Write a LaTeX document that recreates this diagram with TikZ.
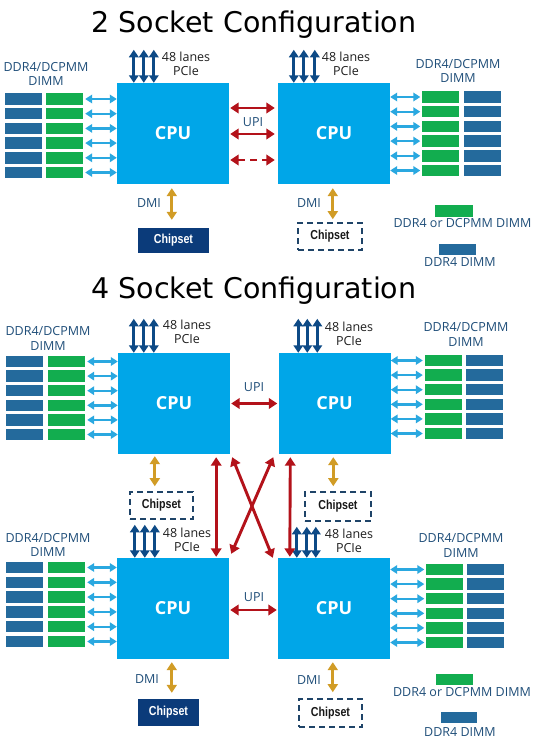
\documentclass[tikz,border=0pt]{standalone}
\usepackage{fontspec}
\setmainfont{Open Sans}
\newfontfamily\titlefont{DejaVu Sans}
\newfontfamily\chipfont[FakeStretch=0.82]{Liberation Sans}
\usetikzlibrary{arrows.meta}
\definecolor{cpublue}{HTML}{00A6E8}
\definecolor{ddrblue}{HTML}{246A9C}
\definecolor{dimmgreen}{HTML}{12AD4F}
\definecolor{memblue}{HTML}{2AA8E0}
\definecolor{pcieblue}{HTML}{0D4A86}
\definecolor{upired}{HTML}{B3121A}
\definecolor{dmiorange}{HTML}{D19C26}
\definecolor{chipnavy}{HTML}{0B3B7A}
\definecolor{chipborder}{HTML}{1F4468}
\definecolor{labelblue}{HTML}{1F4E79}
\tikzset{
  cpu/.style={fill=cpublue, minimum width=112pt, minimum height=101pt, inner sep=0pt,
    text=white, font=\bfseries\fontsize{18}{20}\selectfont},
  ddr/.style={fill=ddrblue, minimum width=37pt, minimum height=11.5pt, inner sep=0pt},
  dcp/.style={fill=dimmgreen, minimum width=37pt, minimum height=11.5pt, inner sep=0pt},
  memarr/.style={draw=memblue, line width=2.4pt,
    {Triangle[width=8.5pt,length=7pt]}-{Triangle[width=8.5pt,length=7pt]}},
  pciearr/.style={draw=pcieblue, line width=2.8pt,
    {Triangle[width=9.5pt,length=7.5pt]}-{Triangle[width=9.5pt,length=7.5pt]}},
  upiarr/.style={draw=upired, line width=2.9pt,
    {Triangle[width=10.5pt,length=8.5pt]}-{Triangle[width=10.5pt,length=8.5pt]}},
  dmiarr/.style={draw=dmiorange, line width=2.9pt,
    {Triangle[width=10pt,length=8pt]}-{Triangle[width=10pt,length=8pt]}},
  chipsolid/.style={fill=chipnavy, text=white, inner sep=0pt,
    font=\chipfont\bfseries\fontsize{13}{15}\selectfont},
  chipdash/.style={draw=chipborder, dash pattern=on 6pt off 4pt, line width=1.6pt,
    text=black!90, inner sep=0pt, font=\chipfont\bfseries\fontsize{13}{15}\selectfont},
  dimmlbl/.style={text=labelblue, align=center, inner sep=0pt,
    font=\fontsize{12.5}{14.5}\selectfont},
  pcielbl/.style={text=black!88, align=center, inner sep=0pt,
    font=\fontsize{12.5}{14}\selectfont},
  smalllbl/.style={text=labelblue, inner sep=0pt, font=\fontsize{12.5}{14}\selectfont},
  titlelbl/.style={anchor=base, inner sep=0pt, font=\titlefont\fontsize{28.5}{33}\selectfont},
}
\begin{document}
\begin{tikzpicture}[x=1pt,y=-1pt]
\useasboundingbox[fill=white] (0,0) rectangle (533,739);

% ================= 2 SOCKET =================
\node[titlelbl] (t2) at (254,32) {2 Socket Configuration};

\node[cpu] (cpuA) at (173,133.5) {CPU};
\node[cpu] (cpuB) at (334,133.5) {CPU};

% DIMMs left
\foreach \i in {1,...,6} {
  \node[ddr] (dA\i) at (23.5,{99+(\i-1)*14.7}) {};
  \node[dcp] (gA\i) at (64.5,{99+(\i-1)*14.7}) {};
  \draw[memarr] ([xshift=2pt]gA\i.east) -- (gA\i.east -| cpuA.west);
}
% DIMMs right
\foreach \i in {1,...,6} {
  \node[dcp] (gB\i) at (440.5,{97+(\i-1)*14.7}) {};
  \node[ddr] (dB\i) at (482.5,{97+(\i-1)*14.7}) {};
  \draw[memarr] (cpuB.east |- gB\i.west) -- ([xshift=-1.5pt]gB\i.west);
}
\node[dimmlbl] (lA) at (46,74) {DDR4/DCPMM\\DIMM};
\node[dimmlbl] (lB) at (458,71) {DDR4/DCPMM\\DIMM};

% PCIe
\foreach \dx [count=\k] in {17,27,37} {
  \coordinate (pA\k) at ([xshift=\dx pt,yshift=33pt]cpuA.north west);
  \draw[pciearr] (pA\k) -- (pA\k |- cpuA.north);
}
\foreach \dx [count=\k] in {16,26,37} {
  \coordinate (pB\k) at ([xshift=\dx pt,yshift=33pt]cpuB.north west);
  \draw[pciearr] (pB\k) -- (pB\k |- cpuB.north);
}
\node[pcielbl] (plA) at (186,64) {48 lanes\\PCIe};
\node[pcielbl] (plB) at (346,64) {48 lanes\\PCIe};

% UPI
\draw[upiarr] ([xshift=1pt,yshift=25.5pt]cpuA.east) -- ([xshift=-3pt,yshift=25.5pt]cpuB.west);
\draw[upiarr] ([xshift=1pt,yshift=-0.5pt]cpuA.east) -- ([xshift=-3pt,yshift=-0.5pt]cpuB.west);
\draw[upiarr, dash pattern=on 7pt off 5pt] ([xshift=1pt,yshift=-26.5pt]cpuA.east) -- ([xshift=-3pt,yshift=-26.5pt]cpuB.west);
\node[smalllbl] (uA) at (253,122) {UPI};

% DMI + chipsets
\node[chipsolid, minimum width=71pt, minimum height=25pt] (chA) at (173.5,240.5) {Chipset};
\node[chipdash, minimum width=64pt, minimum height=27pt] (chB) at (330,236.5) {Chipset};
\coordinate (mA) at ([xshift=55pt]cpuA.south west);
\coordinate (mB) at ([xshift=55pt]cpuB.south west);
\draw[dmiarr, shorten <=4pt, shorten >=8pt] (mA) -- (mA |- chA.north);
\draw[dmiarr, shorten <=4pt, shorten >=3pt] (mB) -- (mB |- chB.north);
\node[smalllbl] (dmA) at (149,203) {DMI};
\node[smalllbl] (dmB) at (309,203) {DMI};

% legend
\node[dcp, minimum width=38pt, minimum height=12pt] (lgA) at (454,211) {};
\node[smalllbl] (lgAt) at (462.5,223) {DDR4 or DCPMM DIMM};
\node[ddr, minimum width=37pt, minimum height=11pt] (lbA) at (457.5,249.5) {};
\node[smalllbl] (lbAt) at (460,262) {DDR4 DIMM};

% ================= 4 SOCKET =================
\node[titlelbl] (t4) at (254,298) {4 Socket Configuration};

\node[cpu] (cTL) at (174,403.5) {CPU};
\node[cpu] (cTR) at (334.5,403.5) {CPU};
\node[cpu] (cBL) at (173,608.5) {CPU};
\node[cpu] (cBR) at (334,608.5) {CPU};

% DIMMs
\foreach \i in {1,...,6} {
  \node[ddr] (dTL\i) at (24.5,{361.5+(\i-1)*14.6}) {};
  \node[dcp] (gTL\i) at (66.5,{361.5+(\i-1)*14.6}) {};
  \draw[memarr] ([xshift=2pt]gTL\i.east) -- (gTL\i.east -| cTL.west);
  \node[dcp] (gTR\i) at (443,{360.5+(\i-1)*14.6}) {};
  \node[ddr] (dTR\i) at (484.5,{360.5+(\i-1)*14.6}) {};
  \draw[memarr] (cTR.east |- gTR\i.west) -- ([xshift=-1.5pt]gTR\i.west);
  \node[ddr] (dBL\i) at (24.5,{567.5+(\i-1)*14.8}) {};
  \node[dcp] (gBL\i) at (66.5,{567.5+(\i-1)*14.8}) {};
  \draw[memarr] ([xshift=2pt]gBL\i.east) -- (gBL\i.east -| cBL.west);
  \node[dcp] (gBR\i) at (444.5,{569.5+(\i-1)*14.6}) {};
  \node[ddr] (dBR\i) at (485.5,{569.5+(\i-1)*14.6}) {};
  \draw[memarr] (cBR.east |- gBR\i.west) -- ([xshift=-1.5pt]gBR\i.west);
}
\node[dimmlbl] (lTL) at (48,338.5) {DDR4/DCPMM\\DIMM};
\node[dimmlbl] (lTR) at (466,334.5) {DDR4/DCPMM\\DIMM};
\node[dimmlbl] (lBL) at (48,545) {DDR4/DCPMM\\DIMM};
\node[dimmlbl] (lBR) at (461,545.5) {DDR4/DCPMM\\DIMM};

% PCIe
\foreach \dx [count=\k] in {16,26,36} {
  \coordinate (pTL\k) at ([xshift=\dx pt,yshift=34pt]cTL.north west);
  \draw[pciearr] (pTL\k) -- (pTL\k |- cTL.north);
}
\foreach \dx [count=\k] in {20,29,39} {
  \coordinate (pTR\k) at ([xshift=\dx pt,yshift=34pt]cTR.north west);
  \draw[pciearr] (pTR\k) -- (pTR\k |- cTR.north);
}
\foreach \dx [count=\k] in {18,28,38} {
  \coordinate (pBL\k) at ([xshift=\dx pt,yshift=33pt]cBL.north west);
  \draw[pciearr] (pBL\k) -- (pBL\k |- cBL.north);
}
\foreach \dx [count=\k] in {19,29,38} {
  \coordinate (pBR\k) at ([xshift=\dx pt,yshift=31pt]cBR.north west);
  \draw[pciearr] (pBR\k) -- (pBR\k |- cBR.north);
}
\node[pcielbl] (plTL) at (187,332) {48 lanes\\PCIe};
\node[pcielbl] (plTR) at (349,334) {48 lanes\\PCIe};
\node[pcielbl] (plBL) at (187,539.5) {48 lanes\\PCIe};
\node[pcielbl] (plBR) at (349,541) {48 lanes\\PCIe};

% UPI
\draw[upiarr] ([xshift=1pt]cTL.east) -- ([xshift=-1pt]cTR.west);
\node[smalllbl] (uT) at (254,387) {UPI};
\draw[upiarr] ([xshift=1pt,yshift=-1.5pt]cBL.east) -- ([xshift=-1pt,yshift=-1.5pt]cBR.west);
\node[smalllbl] (uB) at (254,597) {UPI};

\draw[upiarr] ([xshift=-14pt,yshift=-3pt]cTL.south east) -- ([xshift=-13pt,yshift=1pt]cBL.north east);
\draw[upiarr] ([xshift=12pt,yshift=-3pt]cTR.south west) -- ([xshift=12pt,yshift=1pt]cBR.north west);
\draw[upiarr] ([xshift=2pt,yshift=-3pt]cTL.south east) -- ([xshift=-5pt]cBR.north west);
\draw[upiarr] ([xshift=-5pt,yshift=-3pt]cTR.south west) -- ([xshift=2pt,yshift=4pt]cBL.north east);

% chipsets + DMI
\node[chipdash, minimum width=63pt, minimum height=27pt] (chTL) at (161.5,505.5) {Chipset};
\node[chipdash, minimum width=66pt, minimum height=29pt] (chTR) at (338,506.5) {Chipset};
\node[chipsolid, minimum width=61pt, minimum height=27pt] (chBL) at (168.5,712.5) {Chipset};
\node[chipdash, minimum width=63pt, minimum height=28pt] (chBR) at (330.5,713) {Chipset};
\coordinate (mTL) at ([xshift=37pt]cTL.south west);
\coordinate (mTR) at ([xshift=55pt]cTR.south west);
\coordinate (mBL) at ([xshift=55pt]cBL.south west);
\coordinate (mBR) at ([xshift=55pt]cBR.south west);
\draw[dmiarr, shorten <=2pt, shorten >=5pt] (mTL) -- (mTL |- chTL.north);
\draw[dmiarr, shorten <=3pt, shorten >=5pt] (mTR) -- (mTR |- chTR.north);
\draw[dmiarr, shorten <=3pt, shorten >=6pt] (mBL) -- (mBL |- chBL.north);
\draw[dmiarr, shorten <=3pt, shorten >=6pt] (mBR) -- (mBR |- chBR.north);
\node[smalllbl] (dmBL) at (147,679) {DMI};
\node[smalllbl] (dmBR) at (309,680) {DMI};

% legend
\node[dcp, minimum width=37pt, minimum height=11pt] (lgB) at (454.5,679.5) {};
\node[smalllbl] (lgBt) at (462,692) {DDR4 or DCPMM DIMM};
\node[ddr, minimum width=36pt, minimum height=11pt] (lbB) at (459,717.5) {};
\node[smalllbl] (lbBt) at (460,732) {DDR4 DIMM};
\end{tikzpicture}
\end{document}
